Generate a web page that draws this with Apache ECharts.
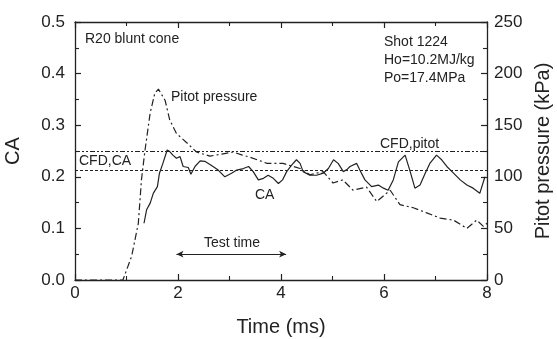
<!DOCTYPE html>
<html>
<head>
<meta charset="utf-8">
<script src="https://cdn.jsdelivr.net/npm/echarts@6/dist/echarts.min.js"></script>
<style>
  html, body { margin: 0; padding: 0; background: #fff; }
  #chart { width: 557px; height: 339px; }
</style>
</head>
<body>
<div id="chart"></div>
<script>
// Time traces of drag coefficient and pitot pressure, shot 1224.

const caTrace = [
  [1.34, 0.110], [1.39, 0.136], [1.46, 0.149], [1.52, 0.168], [1.60, 0.181],
  [1.64, 0.207], [1.71, 0.227], [1.79, 0.252], [1.84, 0.249], [1.90, 0.242],
  [1.97, 0.236], [2.04, 0.239], [2.10, 0.220], [2.20, 0.218], [2.25, 0.205],
  [2.33, 0.220], [2.43, 0.231], [2.52, 0.230], [2.62, 0.224], [2.68, 0.220],
  [2.78, 0.213], [2.91, 0.200], [3.04, 0.207], [3.14, 0.213], [3.27, 0.216],
  [3.37, 0.220], [3.46, 0.210], [3.56, 0.194], [3.66, 0.197], [3.75, 0.203],
  [3.85, 0.197], [3.95, 0.187], [4.03, 0.194], [4.11, 0.210], [4.21, 0.223],
  [4.30, 0.233], [4.37, 0.226], [4.43, 0.210], [4.56, 0.203], [4.69, 0.203],
  [4.82, 0.207], [4.92, 0.216], [5.02, 0.233], [5.11, 0.226], [5.21, 0.210],
  [5.28, 0.214], [5.34, 0.220], [5.47, 0.226], [5.53, 0.213], [5.63, 0.194],
  [5.76, 0.181], [5.89, 0.184], [5.99, 0.178], [6.08, 0.174], [6.18, 0.194],
  [6.28, 0.229], [6.41, 0.242], [6.50, 0.213], [6.60, 0.178], [6.70, 0.184],
  [6.80, 0.207], [6.89, 0.226], [7.02, 0.242], [7.12, 0.233], [7.22, 0.220],
  [7.35, 0.207], [7.48, 0.194], [7.61, 0.184], [7.73, 0.178], [7.86, 0.168],
  [7.96, 0.200]
];

const pitotTrace = [
  [0, 0], [0.5, 0], [0.93, 0], [1.10, 23], [1.23, 55], [1.29, 97], [1.36, 126],
  [1.46, 162], [1.55, 181], [1.62, 185], [1.75, 174], [1.84, 155], [1.97, 142],
  [2.17, 133], [2.36, 124], [2.62, 120], [2.85, 122], [3.07, 124], [3.25, 121],
  [3.40, 119], [3.73, 113], [4.04, 113], [4.37, 108], [4.56, 102], [4.82, 105],
  [5.01, 94], [5.20, 97], [5.40, 87], [5.66, 90], [5.86, 76], [6.12, 87],
  [6.31, 73], [6.57, 70], [6.83, 65], [7.09, 60], [7.35, 58], [7.61, 50],
  [7.80, 58], [7.93, 52], [8.0, 55]
];

const cfdCA = 0.213;
const cfdPitot = 125;
const testTime = [1.97, 4.10];
const testTimeLevel = 0.05;

const font = "Liberation Sans, Arial, sans-serif";
const ink = "#222";

function frameAxis(extra) {
  // Shared boxed-frame look: inward major/minor ticks, no grid lines.
  return Object.assign({
    axisLine: { show: true, onZero: false, lineStyle: { color: ink, width: 1.3 } },
    axisTick: { show: true, inside: true, length: 6, lineStyle: { color: ink, width: 1.2 } },
    minorTick: { show: true, splitNumber: 2, length: 4, lineStyle: { color: ink, width: 1.1 } },
    axisLabel: { fontFamily: font, fontSize: 17, color: ink, margin: 8 },
    nameTextStyle: { fontFamily: font, fontSize: 20, color: ink },
    splitLine: { show: false }
  }, extra);
}

const chart = echarts.init(document.getElementById("chart"));

chart.setOption({
  animation: false,
  backgroundColor: "#fff",
  grid: { left: 75, right: 70, top: 22, bottom: 59, outerBoundsMode: "none" },
  xAxis: [
    frameAxis({
      type: "value", min: 0, max: 8, interval: 2,
      name: "Time (ms)", nameLocation: "middle", nameGap: 37,
      axisLabel: { fontFamily: font, fontSize: 17, color: ink, margin: 5 }
    }),
    frameAxis({
      type: "value", min: 0, max: 8, interval: 2, position: "top",
      axisLabel: { show: false }
    })
  ],
  yAxis: [
    frameAxis({
      type: "value", min: 0, max: 0.5, interval: 0.1,
      name: "CA", nameLocation: "middle", nameGap: 52,
      axisLabel: { fontFamily: font, fontSize: 17, color: ink, margin: 10,
        formatter: (v) => v.toFixed(1) }
    }),
    frameAxis({
      type: "value", min: 0, max: 250, interval: 50, position: "right",
      name: "Pitot pressure (kPa)", nameLocation: "middle", nameGap: 46,
      nameRotate: 90,
      axisLabel: { fontFamily: font, fontSize: 17, color: ink, margin: 7 }
    })
  ],
  series: [
    {
      name: "CA", type: "line", data: caTrace, yAxisIndex: 0,
      showSymbol: false, lineStyle: { color: ink, width: 1.2 },
      markLine: {
        silent: true, symbol: ["none", "none"], label: { show: false },
        lineStyle: { color: ink, width: 1, type: [3, 2] },
        data: [[{ coord: [0, cfdCA] }, { coord: [8, cfdCA] }]]
      }
    },
    {
      name: "Pitot", type: "line", data: pitotTrace, yAxisIndex: 1,
      showSymbol: false, lineStyle: { color: ink, width: 1.2, type: [7, 3, 2, 3] },
      markLine: {
        silent: true, symbol: ["none", "none"], label: { show: false },
        lineStyle: { color: ink, width: 1, type: [5, 2, 2, 2, 2, 2] },
        data: [[{ coord: [0, cfdPitot] }, { coord: [8, cfdPitot] }]]
      }
    },
    {
      name: "Test time", type: "line", data: [], yAxisIndex: 0,
      markLine: {
        silent: true, symbol: ["arrow", "arrow"], symbolSize: [5, 7],
        label: { show: false },
        lineStyle: { color: ink, width: 1, type: "solid" },
        data: [[{ coord: [testTime[0], testTimeLevel] }, { coord: [testTime[1], testTimeLevel] }]]
      }
    }
  ],
  graphic: [
    { type: "text", left: 85, top: 32, style: { text: "R20 blunt cone", font: `14px ${font}`, fill: ink } },
    { type: "text", left: 384, top: 33, style: { text: "Shot 1224\nHo=10.2MJ/kg\nPo=17.4MPa", font: `14px ${font}`, fill: ink, lineHeight: 18 } },
    { type: "text", left: 171, top: 90, style: { text: "Pitot pressure", font: `14px ${font}`, fill: ink } },
    { type: "text", left: 79, top: 154, style: { text: "CFD,CA", font: `14px ${font}`, fill: ink } },
    { type: "text", left: 380, top: 137, style: { text: "CFD,pitot", font: `14px ${font}`, fill: ink } },
    { type: "text", left: 255, top: 188, style: { text: "CA", font: `14px ${font}`, fill: ink } },
    { type: "text", left: 204, top: 236, style: { text: "Test time", font: `14px ${font}`, fill: ink } }
  ]
});
</script>
</body>
</html>
